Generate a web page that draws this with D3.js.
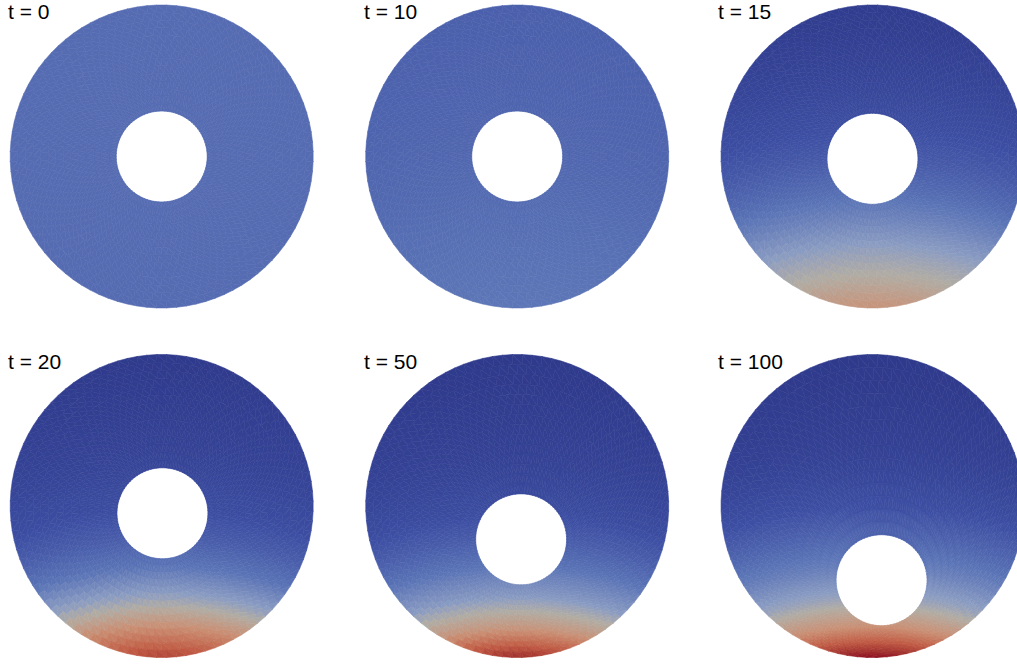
<!DOCTYPE html>
<html>
<head>
<meta charset="utf-8">
<script src="https://cdn.jsdelivr.net/npm/d3@7"></script>
<style>
html,body{margin:0;padding:0;background:#fff;}
svg{display:block;}
text{font-family:"Liberation Sans",Arial,Helvetica,sans-serif;}
</style>
</head>
<body>
<svg id="chart" width="1017" height="664"></svg>
<script>
// ---- data ----
const panelLabels = ["t = 0", "t = 10", "t = 15", "t = 20", "t = 50", "t = 100"];
// inner hole centre (outer radius = 1, y up)
const holeX = [0, 0, 0, 0.005, 0.026, 0.06];
const holeY = [0, 0, -0.015, -0.048, -0.22, -0.49];
const innerRadius = 0.30;
// field samples from top (s = 0) to bottom (s = 1) of the disc
const profileS = [0, 0.1, 0.2, 0.3, 0.4, 0.5, 0.6, 0.7, 0.8, 0.9, 1.0];
const profileT0   = [0.27, 0.27, 0.27, 0.27, 0.27, 0.27, 0.27, 0.27, 0.27, 0.27, 0.27];
const profileT10  = [0.22, 0.225, 0.23, 0.235, 0.24, 0.25, 0.26, 0.275, 0.29, 0.30, 0.31];
const profileT15  = [0.02, 0.04, 0.07, 0.10, 0.14, 0.19, 0.26, 0.35, 0.46, 0.56, 0.68];
const profileT20  = [0.0, 0.02, 0.04, 0.06, 0.09, 0.13, 0.20, 0.30, 0.47, 0.70, 0.90];
const profileT50  = [0.0, 0.01, 0.03, 0.05, 0.08, 0.12, 0.20, 0.30, 0.44, 0.66, 0.95];
const profileT100 = [0.0, 0.01, 0.03, 0.05, 0.09, 0.15, 0.24, 0.34, 0.48, 0.70, 1.0];
const profiles = [profileT0, profileT10, profileT15, profileT20, profileT50, profileT100];
// colour map
const colorStops = [0, 0.15, 0.3, 0.45, 0.55, 0.7, 0.85, 1];
const colorRange = ["#2f3a8c", "#3d4fa3", "#5a74b6", "#8a9cc2", "#b0aca4", "#c98f74", "#c05a44", "#8f0c22"];

// ---- layout ----
const R = 151.5;
const colX = [161.7, 517.2, 872.5];
const rowY = [156.5, 506];
const labelX = [8, 364, 718];
const labelY = [19, 369];
const nRings = 14, nSect = 96;
const focusDepth = 3; // field measured from a point below the disc

const svg = d3.select("#chart");
const color = d3.scaleLinear().domain(colorStops).range(colorRange).interpolate(d3.interpolateLab).clamp(true);

panelLabels.forEach((lab, k) => {
  const col = k % 3, row = Math.floor(k / 3);
  const x = d3.scaleLinear().domain([-1, 1]).range([colX[col] - R, colX[col] + R]);
  const y = d3.scaleLinear().domain([-1, 1]).range([rowY[row] + R, rowY[row] - R]);
  const prof = d3.scaleLinear().domain(profileS).range(profiles[k]).clamp(true);
  const field = (px, py) => {
    const d = Math.hypot(px, py + focusDepth);
    const s = (focusDepth + 1 - d) / 2;
    return prof(s);
  };
  const hx = holeX[k], hy = holeY[k];
  const pt = (th, u) => {
    const ix = hx + innerRadius * Math.cos(th), iy = hy + innerRadius * Math.sin(th);
    const ox = Math.cos(th), oy = Math.sin(th);
    return [ix + (ox - ix) * u, iy + (oy - iy) * u];
  };
  const tris = [];
  for (let i = 0; i < nRings; i++) {
    for (let j = 0; j < nSect; j++) {
      const off = (i % 2) * 0.5;
      const t0 = 2 * Math.PI * (j + off) / nSect, t1 = 2 * Math.PI * (j + 1 + off) / nSect;
      const u0 = i / nRings, u1 = (i + 1) / nRings;
      const a = pt(t0, u0), b = pt(t1, u0), c = pt(t1, u1), d = pt(t0, u1);
      tris.push([a, b, c]);
      tris.push([a, c, d]);
    }
  }
  const g = svg.append("g");
  g.selectAll("path").data(tris).join("path")
    .attr("d", t => "M" + t.map(p => x(p[0]).toFixed(2) + "," + y(p[1]).toFixed(2)).join("L") + "Z")
    .each(function (t) {
      const cx = (t[0][0] + t[1][0] + t[2][0]) / 3, cy = (t[0][1] + t[1][1] + t[2][1]) / 3;
      const c = color(field(cx, cy));
      d3.select(this).attr("fill", c).attr("stroke", c).attr("stroke-width", 0.6);
    });
  svg.append("text")
    .attr("x", labelX[col]).attr("y", labelY[row])
    .attr("font-size", 21).attr("fill", "#000")
    .text(lab);
});
</script>
</body>
</html>
